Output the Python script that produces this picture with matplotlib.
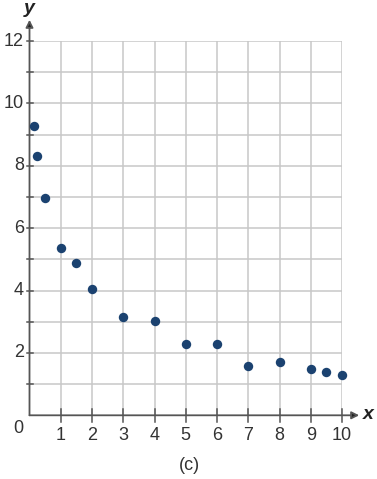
import matplotlib
matplotlib.use("Agg")
import matplotlib.pyplot as plt

x_vals = [0.15, 0.25, 0.5, 1, 1.5, 2, 3, 4, 5, 6, 7, 8, 9, 9.5, 10]
y_vals = [9.28, 8.32, 6.98, 5.37, 4.88, 4.06, 3.16, 3.03, 2.30, 2.28, 1.58, 1.71, 1.48, 1.38, 1.28]
x_ticks = [1, 2, 3, 4, 5, 6, 7, 8, 9, 10]
y_ticks = [2, 4, 6, 8, 10, 12]
caption = "(c)"

plt.rcParams['font.family'] = ['Liberation Sans', 'DejaVu Sans']

W, H = 377, 479
fig = plt.figure(figsize=(W/100, H/100), dpi=100)
x0, x1 = 29.5, 342.0
ytop, ybot = 41.0, 415.3
ax = fig.add_axes([x0/W, 1 - ybot/H, (x1-x0)/W, (ybot-ytop)/H])
ax.set_xlim(0, 10)
ax.set_ylim(0, 12)

grid_c = '#c8c8c8'
for gx in range(1, 11):
    ax.axvline(gx, color=grid_c, lw=1.1, zorder=1)
for gy in range(1, 13):
    ax.axhline(gy, color=grid_c, lw=1.1, zorder=1)

for s in ax.spines.values():
    s.set_visible(False)
ax.set_xticks([])
ax.set_yticks([])

axis_c = '#555555'
ax.annotate('', xy=(10.55, 0), xytext=(0, 0), xycoords='data',
            arrowprops=dict(arrowstyle='-|>', color=axis_c, lw=1.3, mutation_scale=11,
                            shrinkA=0, shrinkB=0, fc='#222222', ec=axis_c),
            annotation_clip=False, zorder=3)
ax.annotate('', xy=(0, 12.68), xytext=(0, 0), xycoords='data',
            arrowprops=dict(arrowstyle='-|>', color=axis_c, lw=1.3, mutation_scale=11,
                            shrinkA=0, shrinkB=0, fc='#222222', ec=axis_c),
            annotation_clip=False, zorder=3)

for gx in x_ticks:
    ax.plot([gx, gx], [-0.2, 0.2], color=axis_c, lw=1.1, clip_on=False, zorder=3)
for gy in range(1, 13):
    ax.plot([-0.08, 0.1], [gy, gy], color=axis_c, lw=1.1, clip_on=False, zorder=3)

fs = 13
for gx in x_ticks:
    ax.text(gx, -0.36, str(gx), ha='center', va='top', fontsize=fs, color='#333333')
for gy in y_ticks:
    ax.text(-0.18, gy, str(gy), ha='right', va='center', fontsize=fs, color='#333333')
ax.text(-0.2, -0.15, '0', ha='right', va='top', fontsize=fs, color='#333333')

ax.text(10.85, 0.02, 'x', ha='center', va='center', fontsize=14,
        fontweight='bold', fontstyle='italic', color='#222222')
ax.text(0.0, 13.05, 'y', ha='center', va='center', fontsize=14,
        fontweight='bold', fontstyle='italic', color='#222222')

ax.scatter(x_vals, y_vals, s=46, color='#1b4270', zorder=4, clip_on=False, linewidths=0)

fig.text(189/W, 1 - 466/H, caption, ha='center', va='center', fontsize=13, color='#333333')

fig.savefig('out.png', dpi=100)
